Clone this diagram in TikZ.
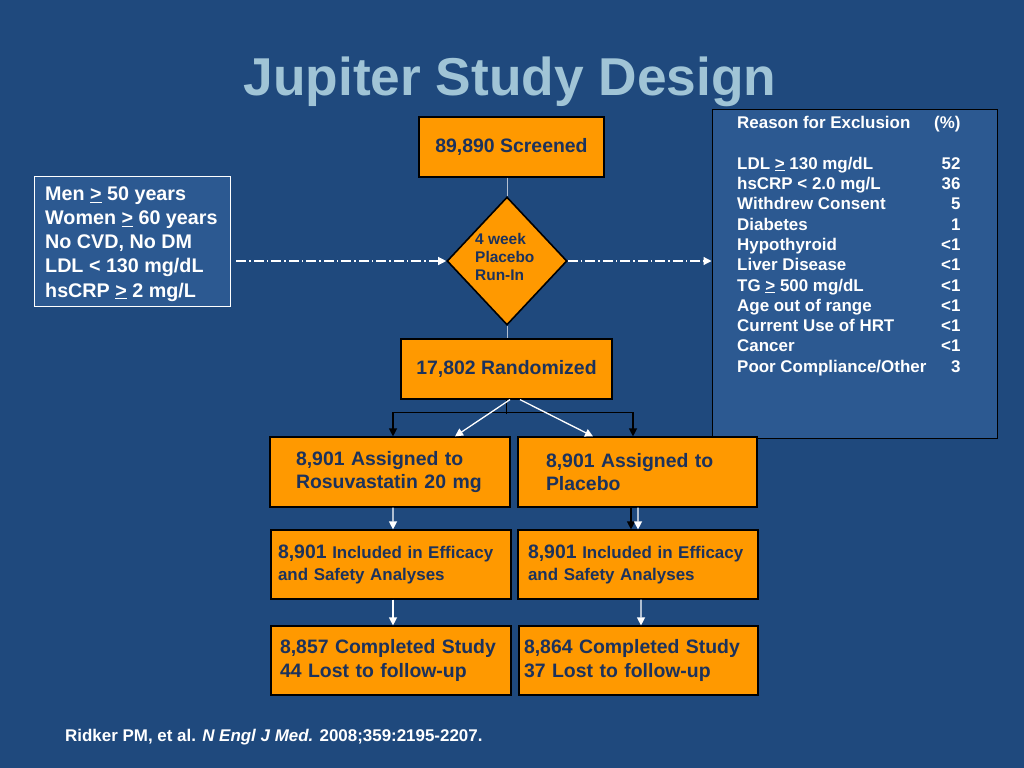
\documentclass[tikz,border=0pt]{standalone}
\usepackage{fontspec}
\setmainfont{Liberation Sans}
\usetikzlibrary{shapes.geometric,arrows.meta,calc}
\definecolor{bg}{RGB}{31,73,125}
\definecolor{panel}{RGB}{44,89,145}
\definecolor{orangebox}{RGB}{255,153,0}
\definecolor{navytext}{RGB}{28,50,92}
\definecolor{titlecol}{RGB}{160,196,214}
\definecolor{stem}{RGB}{180,192,210}
\tikzset{
  obox/.style={draw=black, line width=1.2bp, fill=orangebox, text=navytext, font=\fontsize{19.5}{23.5}\selectfont\bfseries, inner sep=0pt},
  wtxt/.style={text=white, font=\bfseries},
  warr/.style={draw=white, line width=1.3bp, -{Triangle[width=8bp,length=8bp]}},
  barr/.style={draw=black, line width=1.3bp, -{Triangle[width=8bp,length=8bp]}},
  dd/.style={draw=white, line width=1.2bp, dash pattern=on 10bp off 3bp on 1.5bp off 3bp, -{Triangle[width=8bp,length=8bp]}},
}
\begin{document}
\begin{tikzpicture}[x=1bp,y=-1bp]
\fill[bg] (0,0) rectangle (1024,768);
\useasboundingbox (0,0) rectangle (1024,768);

\node[text=titlecol, font=\fontsize{53.5}{60}\selectfont\bfseries] (title) at (510,82) {Jupiter Study Design};

% exclusion panel
\node[draw=black, line width=1bp, fill=panel, minimum width=285bp, minimum height=328bp, inner sep=0pt] (excl) at (854.5,274) {};
\node[anchor=north west, inner sep=0pt, wtxt, font=\fontsize{17}{20.4}\selectfont\bfseries] (excltab) at (737,114) {%
\begin{tabular}{@{}p{197bp}@{}r@{}}
Reason for Exclusion & (\%)\\
 & \\
LDL \underline{>} 130 mg/dL & 52\\
hsCRP < 2.0 mg/L & 36\\
Withdrew Consent & 5\\
Diabetes & 1\\
Hypothyroid & <1\\
Liver Disease & <1\\
TG \underline{>} 500 mg/dL & <1\\
Age out of range & <1\\
Current Use of HRT & <1\\
Cancer & <1\\
Poor Compliance/Other & 3\\
\end{tabular}};

% criteria box
\node[draw=white, line width=0.8bp, fill=panel, minimum width=196bp, minimum height=130bp, inner sep=0pt] (crit) at (132,241) {};
\node[anchor=west, align=left, wtxt, font=\fontsize{19.8}{24.25}\selectfont\bfseries, inner sep=0pt] (crittxt) at (45,244) {Men \underline{>} 50 years\\Women \underline{>} 60 years\\No CVD, No DM\\LDL < 130 mg/dL\\hsCRP \underline{>} 2 mg/L};

% main flow
\node[obox, minimum width=185bp, minimum height=60bp] (scr) at (511.5,147) {89,890 Screened};
\node[diamond, draw=black, line width=1.6bp, fill=orangebox, minimum width=120bp, minimum height=128bp, inner sep=0pt] (run) at (507,261) {};
\node[anchor=west, align=left, text=navytext, inner sep=0pt, font=\fontsize{15.5}{18.5}\selectfont\bfseries] (runtxt) at (475,257) {4 week\\Placebo\\Run-In};
\node[obox, minimum width=211bp, minimum height=60bp] (rand) at (506.5,369) {17,802 Randomized};

\node[obox, minimum width=240bp, minimum height=70bp, text width=188bp, align=left] (asgL) at (390,472) {8,901 Assigned to\\Rosuvastatin 20 mg\\[-3bp]};
\node[obox, minimum width=239bp, minimum height=70bp, text width=183bp, align=left] (asgR) at (637.5,472) {8,901 Assigned to\\Placebo\\[-1bp]};

\node[obox, minimum width=240bp, minimum height=69bp, text width=226bp, align=left, font=\fontsize{17}{22}\selectfont\bfseries] (incL) at (391,564.5) {{\fontsize{19.5}{22}\selectfont 8,901} Included in Efficacy\\and Safety Analyses\\[2bp]};
\node[obox, minimum width=240bp, minimum height=69bp, text width=220bp, align=left, font=\fontsize{17}{22}\selectfont\bfseries] (incR) at (638,564.5) {{\fontsize{19.5}{22}\selectfont 8,901} Included in Efficacy\\and Safety Analyses\\[-1bp]};

\node[obox, minimum width=240bp, minimum height=69bp, text width=222bp, align=left] (compL) at (391,660.5) {8,857 Completed Study\\44 Lost to follow-up\\[6bp]};
\node[obox, minimum width=239bp, minimum height=69bp, text width=229bp, align=left] (compR) at (638.5,660.5) {8,864 Completed Study\\37 Lost to follow-up\\[6bp]};

% connectors
\draw[stem, line width=1bp] (run.north |- scr.south) -- (run.north);
\draw[stem, line width=1bp] (run.south) -- (run.south |- rand.north);
\draw[dd, shorten <=6bp] (crit.east |- run.west) -- (run.west);
\draw[dd] (run.east) -- (run.east -| excl.west);

\draw[black, line width=1.3bp] (rand.south) -- ++(0,14);
\draw[barr] ([xshift=3bp,yshift=24bp]asgL.north) -- ([xshift=3bp]asgL.north);
\draw[black, line width=1.3bp] ([xshift=3bp,yshift=24bp]asgL.north) -- ([xshift=-4.5bp,yshift=24bp]asgR.north);
\draw[barr] ([xshift=-4.5bp,yshift=24bp]asgR.north) -- ([xshift=-4.5bp]asgR.north);

\draw[warr] ([xshift=3.5bp]rand.south) -- ([xshift=65bp]asgL.north);
\draw[warr] ([xshift=13.5bp]rand.south) -- ([xshift=-44.5bp]asgR.north);

\draw[warr] ([xshift=3bp]asgL.south) -- ([xshift=2bp]incL.north);
\draw[barr] ([xshift=-6.5bp]asgR.south) -- ([xshift=-7bp]incR.north);
\draw[warr] ([xshift=0.5bp]asgR.south) -- ([xshift=0bp]incR.north);

\draw[warr] ([xshift=2bp]incL.south) -- ([xshift=2bp]compL.north);
\draw[warr] ([xshift=3bp]incR.south) -- ([xshift=2.5bp]compR.north);

\node[anchor=west, wtxt, font=\fontsize{17}{20}\selectfont\bfseries, inner sep=0pt] (cite) at (65,737) {Ridker PM, et al. \textit{N Engl J Med.} 2008;359:2195-2207.};
\end{tikzpicture}
\end{document}
